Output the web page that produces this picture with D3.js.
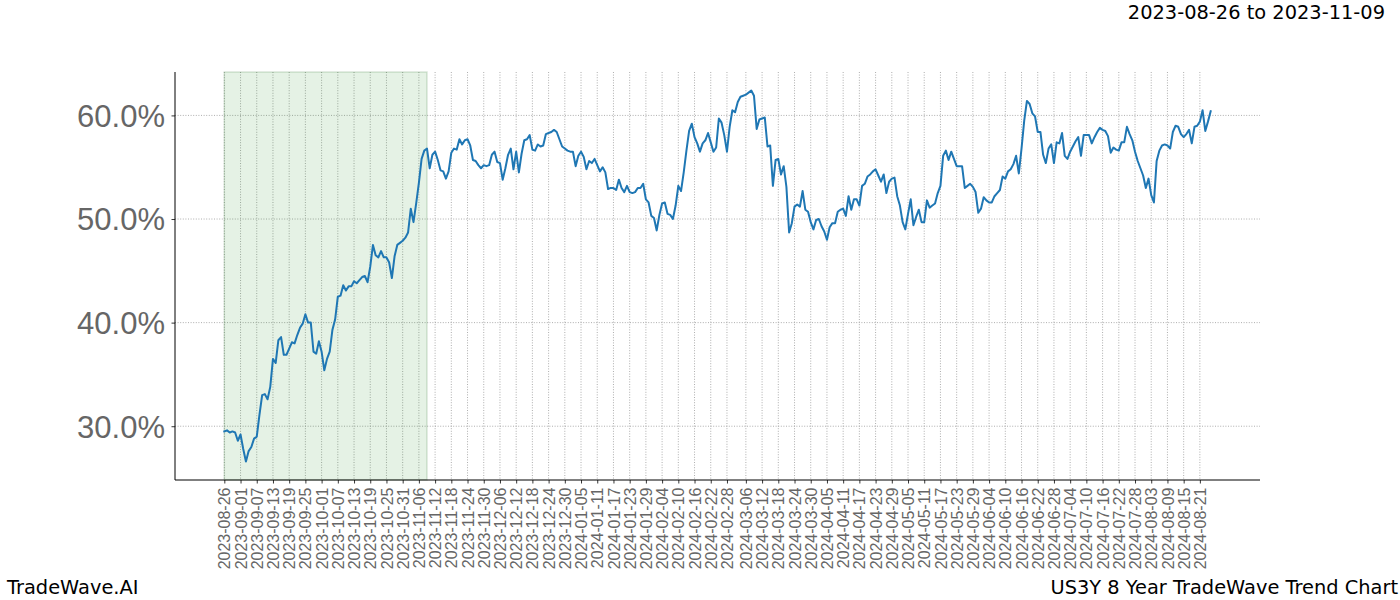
<!DOCTYPE html>
<html>
<head>
<meta charset="utf-8">
<script src="https://cdn.jsdelivr.net/npm/d3@7"></script>
<style>
  html, body { margin: 0; padding: 0; background: #fff; }
  svg { display: block; font-family: "DejaVu Sans", sans-serif; }
</style>
</head>
<body>
<svg id="chart" width="1400" height="600"></svg>
<script>
// ---- data ----
const startDate = "2023-08-26";
const endDate = "2024-08-25";
const highlightRange = ["2023-08-26", "2023-11-09"];
const values = [
  29.5, 29.6, 29.4, 29.5, 29.4, 28.6, 29.2, 27.8, 26.6, 27.6,
  28.0, 28.8, 29.0, 31.1, 33.0, 33.1, 32.6, 33.8, 36.5, 36.1,
  38.3, 38.6, 36.9, 36.9, 37.5, 38.1, 38.0, 38.8, 39.5, 39.9,
  40.8, 40.0, 40.0, 37.2, 37.0, 38.2, 37.2, 35.4, 36.5, 37.2,
  39.3, 40.3, 42.5, 42.6, 43.6, 43.1, 43.5, 43.5, 44.0, 43.8,
  44.1, 44.4, 44.5, 43.9, 45.4, 47.5, 46.5, 46.3, 46.9, 46.3,
  46.3, 45.8, 44.3, 46.4, 47.5, 47.7, 47.9, 48.2, 48.7, 51.0,
  49.7, 51.5, 53.5, 55.8, 56.6, 56.8, 54.9, 56.2, 56.5, 55.7,
  54.7, 54.6, 53.9, 54.6, 56.4, 56.8, 56.7, 57.7, 57.2, 57.6,
  57.7, 57.1, 55.7, 55.6, 55.2, 54.9, 55.2, 55.1, 55.2, 56.2,
  56.5, 55.5, 55.4, 53.8, 54.9, 56.2, 56.8, 54.8, 56.5, 54.5,
  56.3, 57.6, 57.7, 58.1, 56.7, 56.6, 57.2, 57.0, 57.1, 58.2,
  58.3, 58.4, 58.6, 58.4, 57.7, 57.0, 56.8, 56.6, 56.5, 56.5,
  55.1, 56.1, 56.5, 56.0, 54.8, 55.6, 55.4, 55.8, 55.2, 54.6,
  55.0, 54.5, 52.9, 53.0, 53.0, 52.8, 53.8, 53.0, 52.6, 53.2,
  52.6, 52.5, 52.6, 53.0, 53.0, 53.4, 51.9, 51.6, 50.3, 50.1,
  48.9, 50.4, 51.5, 51.6, 50.5, 50.4, 50.0, 51.3, 53.2, 52.7,
  54.5, 56.6, 58.5, 59.2, 57.9, 57.3, 56.5, 57.3, 57.6, 58.3,
  57.4, 56.5, 56.9, 59.7, 59.3, 58.1, 56.5, 58.9, 60.5, 60.3,
  61.3, 61.8, 61.9, 62.0, 62.2, 62.4, 61.9, 58.7, 59.6, 59.7,
  59.8, 57.0, 57.1, 53.2, 55.7, 55.8, 54.3, 55.1, 53.1, 48.7,
  49.6, 51.2, 51.4, 51.2, 52.7, 50.9, 50.7, 49.7, 49.0, 49.9,
  50.0, 49.3, 48.8, 48.0, 49.2, 49.6, 49.6, 50.7, 50.9, 51.0,
  50.3, 52.2, 50.9, 51.9, 51.9, 51.3, 53.2, 53.4, 54.1, 54.3,
  54.6, 54.8, 54.2, 53.6, 54.3, 52.5, 53.6, 53.9, 54.0, 52.2,
  51.3, 49.7, 49.0, 50.5, 51.9, 49.4, 50.2, 50.9, 49.7, 49.7,
  51.8, 51.1, 51.3, 51.5, 52.5, 53.2, 56.1, 56.6, 55.7, 56.5,
  55.8, 55.1, 55.1, 55.1, 53.0, 53.2, 53.4, 53.1, 52.6, 50.6,
  51.0, 52.1, 51.8, 51.6, 51.6, 52.2, 52.5, 52.8, 54.1, 53.9,
  54.6, 54.8, 55.3, 56.1, 54.4, 56.8, 59.5, 61.4, 61.1, 60.2,
  59.9, 58.4, 58.4, 56.2, 55.4, 56.8, 57.2, 55.4, 57.4, 57.3,
  58.3, 56.1, 55.8, 56.5, 57.0, 57.5, 57.9, 56.1, 58.1, 58.1,
  58.1, 57.3, 57.9, 58.4, 58.8, 58.6, 58.5, 58.0, 56.4, 56.9,
  56.7, 56.6, 57.4, 57.4, 58.9, 58.2, 57.6, 56.5, 55.6, 54.9,
  54.2, 53.0, 53.9, 52.3, 51.6, 55.6, 56.6, 57.1, 57.2, 57.1,
  56.8, 58.4, 59.0, 58.9, 58.2, 57.9, 58.2, 58.6, 57.3, 58.9,
  59.0, 59.4, 60.5, 58.5, 59.4, 60.4
];
const xTickLabels = [
  "2023-08-26","2023-09-01","2023-09-07","2023-09-13","2023-09-19","2023-09-25",
  "2023-10-01","2023-10-07","2023-10-13","2023-10-19","2023-10-25","2023-10-31",
  "2023-11-06","2023-11-12","2023-11-18","2023-11-24","2023-11-30","2023-12-06",
  "2023-12-12","2023-12-18","2023-12-24","2023-12-30","2024-01-05","2024-01-11",
  "2024-01-17","2024-01-23","2024-01-29","2024-02-04","2024-02-10","2024-02-16",
  "2024-02-22","2024-02-28","2024-03-06","2024-03-12","2024-03-18","2024-03-24",
  "2024-03-30","2024-04-05","2024-04-11","2024-04-17","2024-04-23","2024-04-29",
  "2024-05-05","2024-05-11","2024-05-17","2024-05-23","2024-05-29","2024-06-04",
  "2024-06-10","2024-06-16","2024-06-22","2024-06-28","2024-07-04","2024-07-10",
  "2024-07-16","2024-07-22","2024-07-28","2024-08-03","2024-08-09","2024-08-15",
  "2024-08-21"
];
const yTicks = [30, 40, 50, 60];
const titleRight = "2023-08-26 to 2023-11-09";
const footerLeft = "TradeWave.AI";
const footerRight = "US3Y 8 Year TradeWave Trend Chart";

// ---- layout ----
const W = 1400, H = 600;
const m = { left: 175, right: 1260, top: 72, bottom: 480 };
const parse = d3.utcParse("%Y-%m-%d");
const start = parse(startDate), end = parse(endDate);
const dates = d3.utcDay.range(start, d3.utcDay.offset(end, 1));
const data = dates.map((d, i) => ({ date: d, value: values[i] }));

const span = end - start;
const x = d3.scaleUtc()
  .domain([new Date(+start - span * 0.05), new Date(+end + span * 0.05)])
  .range([m.left, m.right]);
const [vmin, vmax] = d3.extent(values);
const vpad = (vmax - vmin) * 0.05;
const y = d3.scaleLinear().domain([vmin - vpad, vmax + vpad]).range([m.bottom, m.top]);

const svg = d3.select("#chart");
svg.append("rect").attr("width", W).attr("height", H).attr("fill", "#fff");

const tickDates = xTickLabels.map(parse);

// grid
const grid = svg.append("g");
grid.selectAll("line.gx").data(tickDates).join("line")
  .attr("x1", d => x(d)).attr("x2", d => x(d))
  .attr("y1", m.top).attr("y2", m.bottom)
  .attr("stroke", "#999").attr("stroke-width", 0.8).attr("stroke-dasharray", "1,1.6");
grid.selectAll("line.gy").data(yTicks).join("line")
  .attr("x1", m.left).attr("x2", m.right)
  .attr("y1", d => y(d)).attr("y2", d => y(d))
  .attr("stroke", "#999").attr("stroke-width", 0.8).attr("stroke-dasharray", "1,1.6");

// highlighted span
const h0 = parse(highlightRange[0]), h1 = parse(highlightRange[1]);
svg.append("rect")
  .attr("x", x(h0)).attr("y", m.top)
  .attr("width", x(h1) - x(h0)).attr("height", m.bottom - m.top)
  .attr("fill", "rgb(0,128,0)").attr("fill-opacity", 0.1)
  .attr("stroke", "rgb(0,90,0)").attr("stroke-opacity", 0.15).attr("stroke-width", 1.5);

// line
svg.append("path").datum(data)
  .attr("fill", "none").attr("stroke", "#1f77b4").attr("stroke-width", 2)
  .attr("stroke-linejoin", "round").attr("stroke-linecap", "square")
  .attr("d", d3.line().x(d => x(d.date)).y(d => y(d.value)));

// axes
const xAxis = svg.append("g").attr("transform", `translate(0,${m.bottom})`)
  .call(d3.axisBottom(x).tickValues(tickDates).tickSize(3.5).tickSizeOuter(0)
    .tickFormat(d3.utcFormat("%Y-%m-%d")));
xAxis.select(".domain").attr("stroke", "#000").attr("stroke-width", 1)
  .attr("d", `M${m.left},0H${m.right}`);
xAxis.selectAll(".tick line").attr("stroke", "#000").attr("stroke-width", 0.8);
xAxis.selectAll(".tick text")
  .attr("fill", "#666").style("font-size", "16px")
  .attr("text-anchor", "end")
  .attr("transform", "rotate(-90)")
  .attr("x", -7.5).attr("y", 0).attr("dy", "0.35em");

const yAxis = svg.append("g").attr("transform", `translate(${m.left},0)`)
  .call(d3.axisLeft(y).tickValues(yTicks).tickSize(3.5).tickSizeOuter(0)
    .tickFormat(d => d.toFixed(1) + "%"));
yAxis.select(".domain").attr("stroke", "#000").attr("stroke-width", 1)
  .attr("d", `M0,${m.bottom}V${m.top}`);
yAxis.selectAll(".tick line").attr("stroke", "#000").attr("stroke-width", 0.8);
yAxis.selectAll(".tick text")
  .attr("fill", "#666").style("font-size", "31px")
  .attr("x", -10).attr("dy", "0.35em");

// titles
svg.append("text").attr("x", 1385).attr("y", 19).attr("text-anchor", "end")
  .style("font-size", "19.4px").attr("fill", "#000").text(titleRight);
svg.append("text").attr("x", 7).attr("y", 594)
  .style("font-size", "19.4px").attr("fill", "#000").text(footerLeft);
svg.append("text").attr("x", 1398).attr("y", 594).attr("text-anchor", "end")
  .style("font-size", "19.4px").attr("fill", "#000").text(footerRight);
</script>
</body>
</html>
